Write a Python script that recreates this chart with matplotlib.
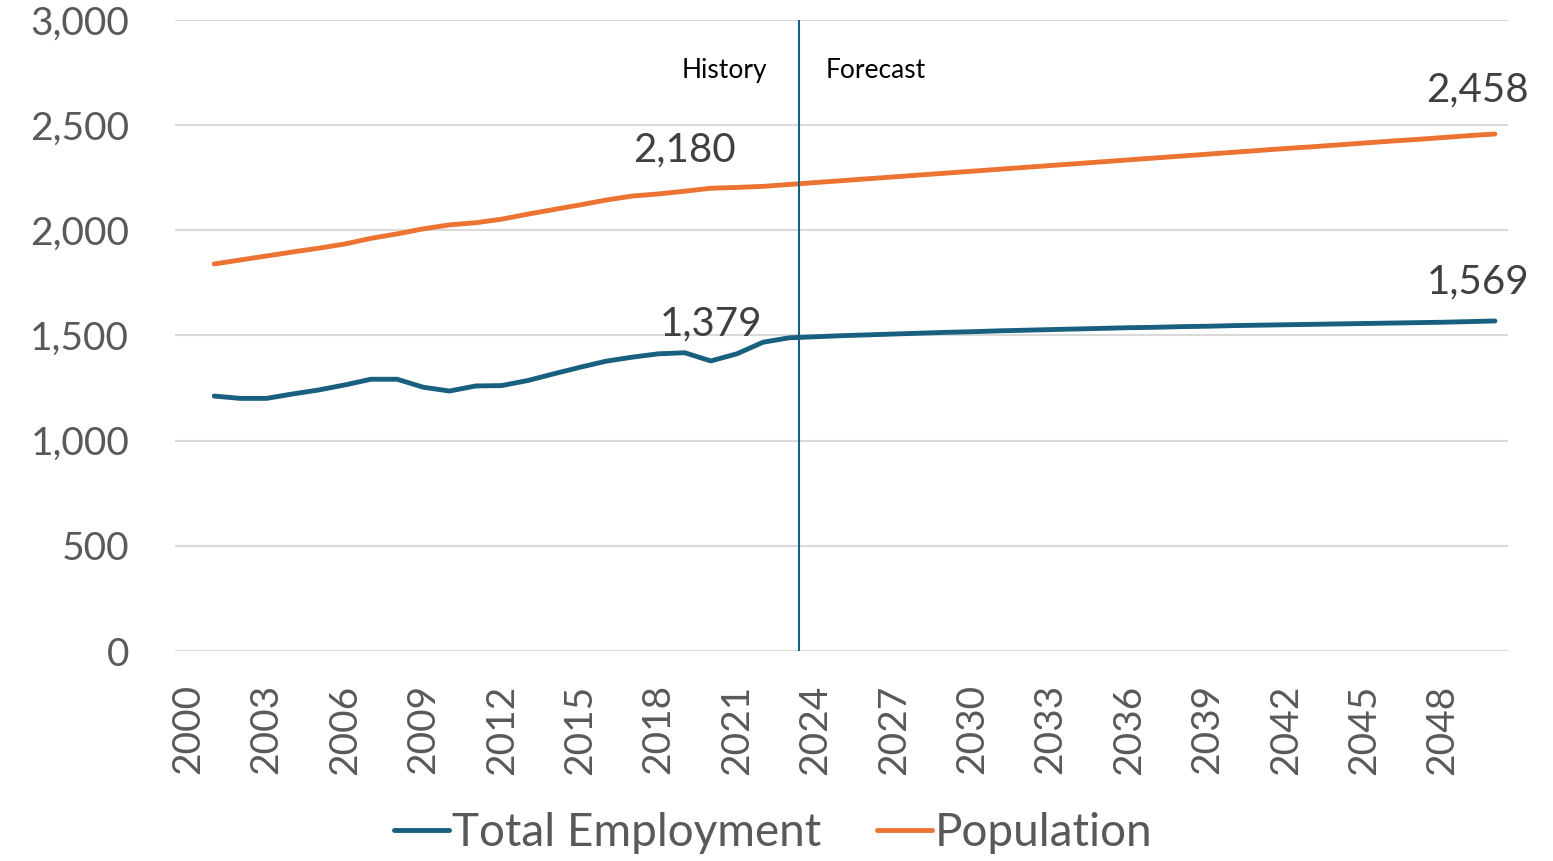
import matplotlib
matplotlib.use('Agg')
import matplotlib.pyplot as plt

plt.rcParams['font.family'] = ['Lato', 'DejaVu Sans']

years = list(range(2000, 2051))
# 2000 is an empty category, series start in 2001
employment = [None,
              1212, 1201, 1201, 1222, 1241, 1265, 1292, 1292, 1254, 1236,
              1260, 1262, 1286, 1318, 1349, 1378, 1397, 1413, 1418, 1379,
              1413, 1468, 1489, 1494, 1499, 1503, 1507, 1511, 1515, 1518,
              1522, 1525, 1528, 1531, 1534, 1537, 1539, 1542, 1544, 1547,
              1549, 1551, 1553, 1555, 1557, 1559, 1561, 1563, 1566, 1569]
population = [None,
              1840, 1859, 1878, 1897, 1915, 1935, 1962, 1983, 2007, 2026,
              2036, 2053, 2077, 2099, 2121, 2144, 2163, 2173, 2186, 2200,
              2204, 2209, 2218, 2227, 2236, 2245, 2254, 2263, 2272, 2281,
              2290, 2299, 2308, 2317, 2326, 2335, 2344, 2353, 2362, 2371,
              2380, 2389, 2397, 2406, 2415, 2424, 2432, 2441, 2450, 2458]
tick_years = list(range(2000, 2050, 3))
labels = [(2019, 2180, '2,180', 'population'),
          (2020, 1379, '1,379', 'employment'),
          (2050, 2458, '2,458', 'population'),
          (2050, 1569, '1,569', 'employment')]

blue = '#195f80'
orange = '#ec7332'
grey = '#595959'

fig = plt.figure(figsize=(15.53, 8.61), dpi=100)
ax = fig.add_axes([0.1127, 0.2439, 0.8583, 0.7329])

emp_x = [y for y, v in zip(years, employment) if v is not None]
emp_y = [v for v in employment if v is not None]
pop_x = [y for y, v in zip(years, population) if v is not None]
pop_y = [v for v in population if v is not None]

ax.plot(emp_x, emp_y, color=blue, lw=3.5, solid_capstyle='round',
        solid_joinstyle='round', label='Total Employment')
ax.plot(pop_x, pop_y, color=orange, lw=3.5, solid_capstyle='round',
        solid_joinstyle='round', label='Population')

# history / forecast divider
ax.axvline(2023.37, color=blue, lw=1.5)
ax.text(2022.15, 2760, 'History', ha='right', va='center', fontsize=19, color='black')
ax.text(2024.4, 2760, 'Forecast', ha='left', va='center', fontsize=19, color='black')

for x, y, s, which in labels:
    if x == 2050:
        dy = 210 if which == 'population' else 185
        ax.text(2051.3, y + dy, s, ha='right', va='center', fontsize=29, color='#404040')
    elif which == 'employment':
        ax.text(x, y + 176, s, ha='center', va='center', fontsize=29, color='#404040')
    else:
        ax.text(x, y + 200, s, ha='center', va='center', fontsize=29, color='#404040')

ax.set_xlim(1999.5, 2050.5)
ax.set_ylim(0, 3000)
ax.set_yticks(range(0, 3001, 500))
ax.set_yticklabels(['{:,}'.format(v) for v in range(0, 3001, 500)])
ax.set_xticks(tick_years)
ax.set_xticklabels([str(y) for y in tick_years], rotation=90)
ax.tick_params(axis='both', length=0, labelsize=28, labelcolor=grey)
ax.tick_params(axis='y', pad=33)
ax.tick_params(axis='x', pad=24)
ax.grid(axis='y', color='#d9d9d9', lw=1.5)
ax.set_axisbelow(True)
for sp in ax.spines.values():
    sp.set_visible(False)

leg = fig.legend(loc='center', bbox_to_anchor=(0.498, 0.0325), ncol=2, frameon=False,
                 fontsize=33, handlelength=1.2, handletextpad=0.07, columnspacing=1.2)
for t in leg.get_texts():
    t.set_color(grey)

fig.savefig('out.png', dpi=100)
